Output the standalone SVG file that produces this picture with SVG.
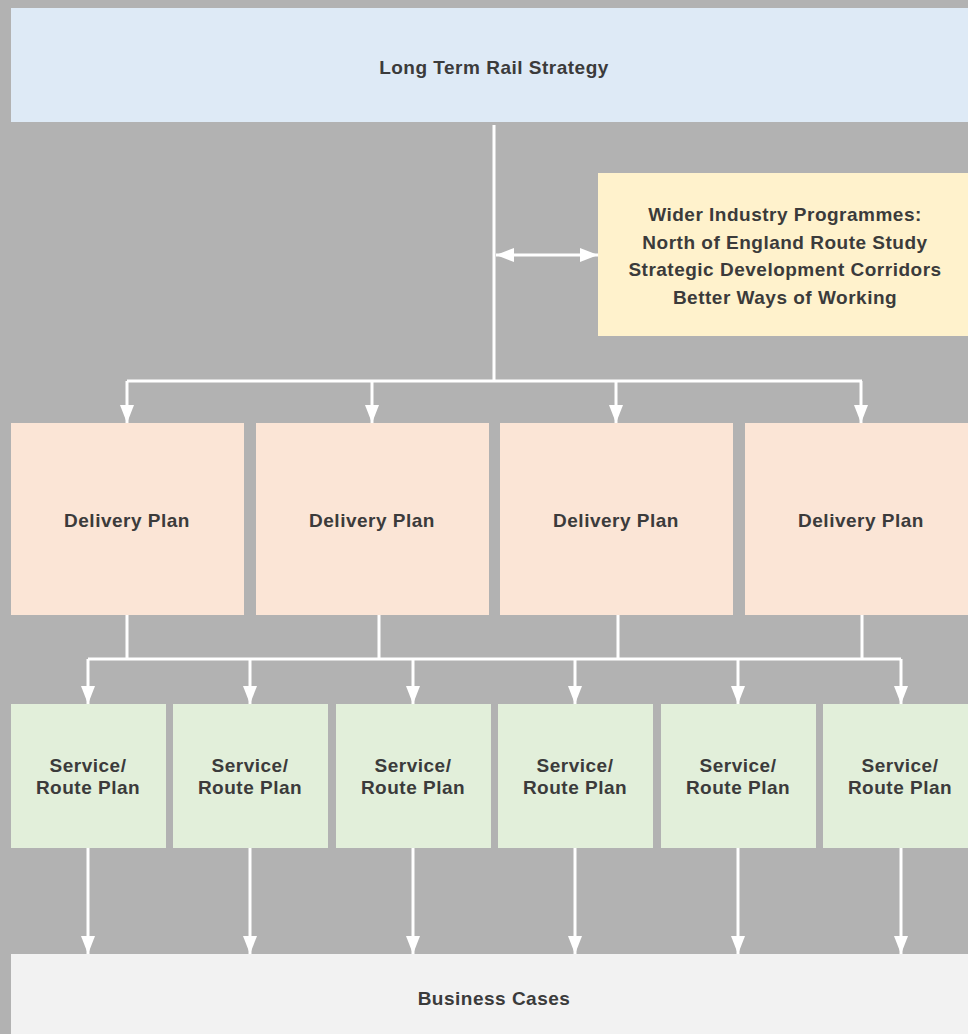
<svg xmlns="http://www.w3.org/2000/svg" width="968" height="1034" viewBox="0 0 968 1034">
<style>
.t{font-family:"Liberation Sans",Arial,sans-serif;font-weight:bold;font-size:19px;letter-spacing:0.5px;fill:#3b3b3b;text-anchor:middle;dominant-baseline:central}
.c{stroke:#fff;stroke-width:3;fill:none}
</style>
<defs>
<marker id="ah" markerUnits="userSpaceOnUse" markerWidth="18" markerHeight="14" refX="18" refY="7" orient="auto-start-reverse" viewBox="0 0 18 14">
<path d="M0,0 L18,7 L0,14 Z" fill="#fff"/>
</marker>
</defs>
<rect width="968" height="1034" fill="#b2b2b2"/>
<g id="strategy"><rect x="11" y="8" width="967" height="114" fill="#deeaf6"/><text class="t" x="494" y="67">Long Term Rail Strategy</text></g>
<g id="wider"><rect x="598" y="173" width="380" height="163" fill="#fff2cc"/>
<text class="t" x="785" y="214">Wider Industry Programmes:</text>
<text class="t" x="785" y="242">North of England Route Study</text>
<text class="t" x="785" y="269">Strategic Development Corridors</text>
<text class="t" x="785" y="297">Better Ways of Working</text></g>
<g id="dp1"><rect x="11" y="423" width="233" height="192" fill="#fbe5d6"/><text class="t" x="127" y="520">Delivery Plan</text></g>
<g id="dp2"><rect x="256" y="423" width="233" height="192" fill="#fbe5d6"/><text class="t" x="372" y="520">Delivery Plan</text></g>
<g id="dp3"><rect x="500" y="423" width="233" height="192" fill="#fbe5d6"/><text class="t" x="616" y="520">Delivery Plan</text></g>
<g id="dp4"><rect x="745" y="423" width="233" height="192" fill="#fbe5d6"/><text class="t" x="861" y="520">Delivery Plan</text></g>
<g id="sp1"><rect x="11" y="704" width="155" height="144" fill="#e2efda"/><text class="t" x="88" y="765">Service/</text><text class="t" x="88" y="787">Route Plan</text></g>
<g id="sp2"><rect x="173" y="704" width="155" height="144" fill="#e2efda"/><text class="t" x="250" y="765">Service/</text><text class="t" x="250" y="787">Route Plan</text></g>
<g id="sp3"><rect x="336" y="704" width="155" height="144" fill="#e2efda"/><text class="t" x="413" y="765">Service/</text><text class="t" x="413" y="787">Route Plan</text></g>
<g id="sp4"><rect x="498" y="704" width="155" height="144" fill="#e2efda"/><text class="t" x="575" y="765">Service/</text><text class="t" x="575" y="787">Route Plan</text></g>
<g id="sp5"><rect x="661" y="704" width="155" height="144" fill="#e2efda"/><text class="t" x="738" y="765">Service/</text><text class="t" x="738" y="787">Route Plan</text></g>
<g id="sp6"><rect x="823" y="704" width="155" height="144" fill="#e2efda"/><text class="t" x="900" y="765">Service/</text><text class="t" x="900" y="787">Route Plan</text></g>
<g id="business"><rect x="11" y="954" width="967" height="90" fill="#f2f2f2"/><text class="t" x="494" y="998">Business Cases</text></g>
<g id="connectors">
<path class="c" d="M494,125 V381 M127,381 H862"/>
<path class="c" d="M496,255 H598" marker-start="url(#ah)" marker-end="url(#ah)"/>
<path class="c" d="M127,381 V423" marker-end="url(#ah)"/>
<path class="c" d="M372,381 V423" marker-end="url(#ah)"/>
<path class="c" d="M616,381 V423" marker-end="url(#ah)"/>
<path class="c" d="M861,381 V423" marker-end="url(#ah)"/>
<path class="c" d="M127,615 V659 M379,615 V659 M618,615 V659 M862,615 V659 M88,659 H901"/>
<path class="c" d="M88,659 V704" marker-end="url(#ah)"/>
<path class="c" d="M250,659 V704" marker-end="url(#ah)"/>
<path class="c" d="M413,659 V704" marker-end="url(#ah)"/>
<path class="c" d="M575,659 V704" marker-end="url(#ah)"/>
<path class="c" d="M738,659 V704" marker-end="url(#ah)"/>
<path class="c" d="M901,659 V704" marker-end="url(#ah)"/>
<path class="c" d="M88,848 V954" marker-end="url(#ah)"/>
<path class="c" d="M250,848 V954" marker-end="url(#ah)"/>
<path class="c" d="M413,848 V954" marker-end="url(#ah)"/>
<path class="c" d="M575,848 V954" marker-end="url(#ah)"/>
<path class="c" d="M738,848 V954" marker-end="url(#ah)"/>
<path class="c" d="M901,848 V954" marker-end="url(#ah)"/>
</g>
</svg>
